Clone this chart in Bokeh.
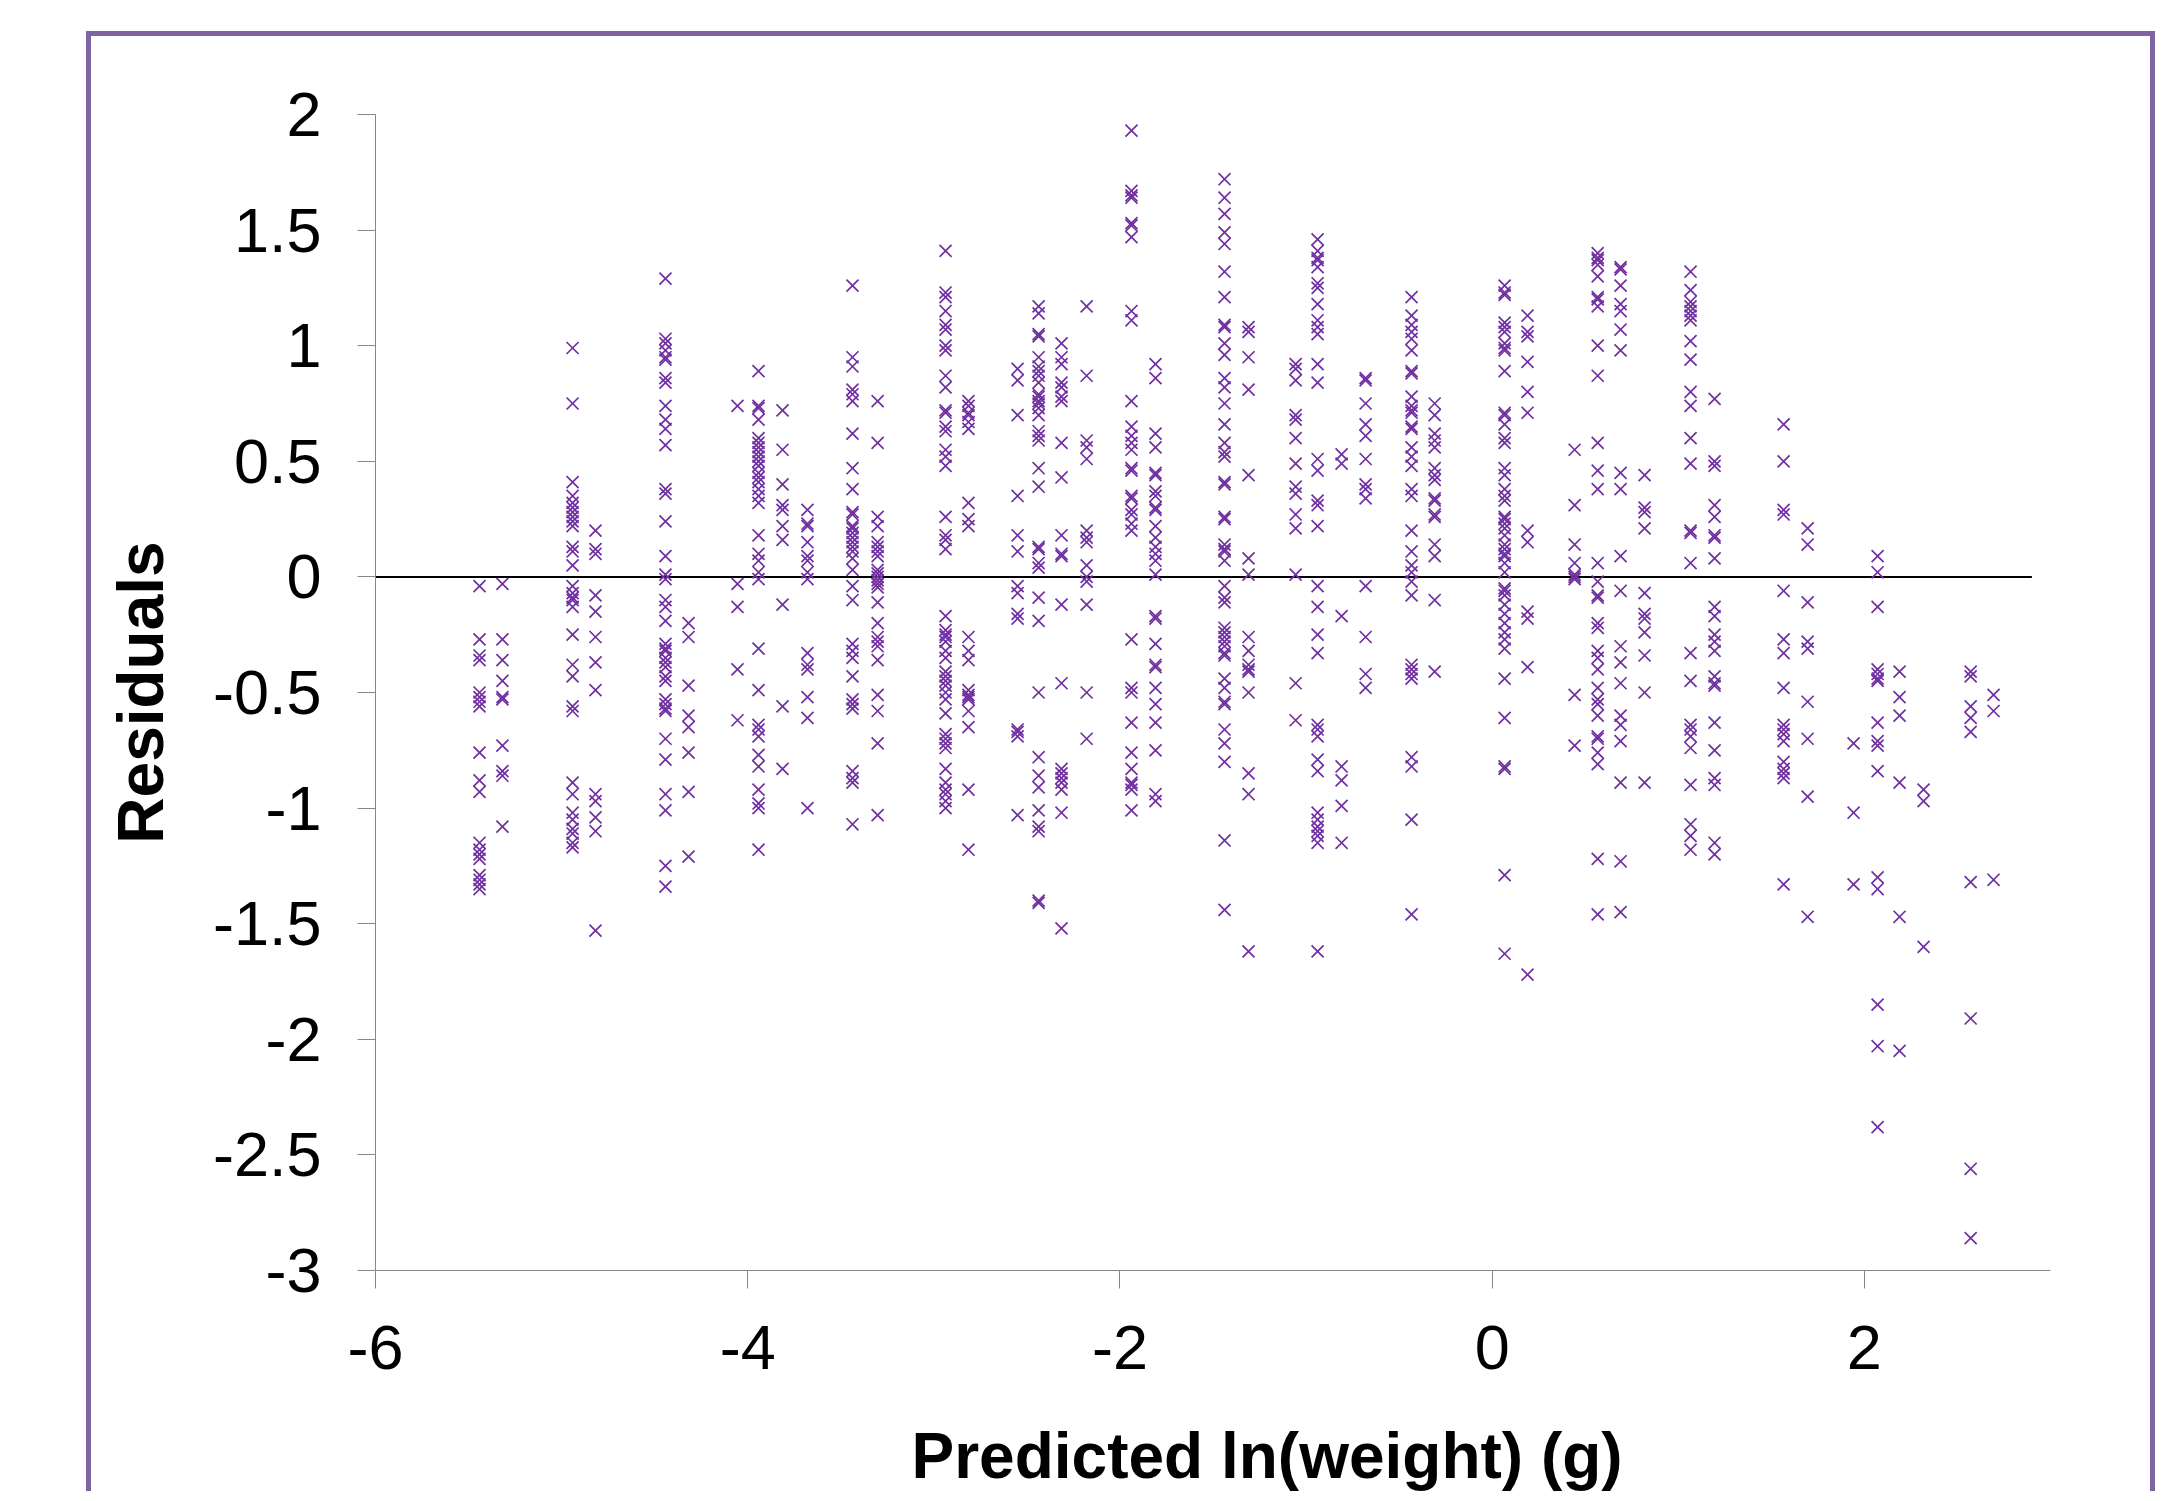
from bokeh.plotting import figure
from bokeh.models import FixedTicker, Title
from bokeh.embed import file_html
from bokeh.resources import INLINE

# Predicted ln(weight) values (x positions of the point columns)
predicted = [-5.441, -5.318, -4.941, -4.818, -4.442, -4.318, -4.055, -3.942,
             -3.813, -3.679, -3.437, -3.302, -2.937, -2.814, -2.550, -2.437,
             -2.314, -2.179, -1.938, -1.809, -1.438, -1.309, -1.056, -0.938,
             -0.809, -0.680, -0.433, -0.309, 0.067, 0.190, 0.443, 0.567,
             0.690, 0.819, 1.066, 1.195, 1.566, 1.695, 1.942, 2.071,
             2.189, 2.318, 2.571, 2.694]

# Residuals for each predicted value
res_01 = [-0.04, -0.27, -0.34, -0.36, -0.50, -0.52, -0.54, -0.56, -0.76, -0.88, -0.93, -1.15, -1.18, -1.20, -1.22, -1.29, -1.31, -1.33, -1.35]
res_02 = [-0.03, -0.27, -0.36, -0.45, -0.52, -0.53, -0.73, -0.84, -0.86, -1.08]
res_03 = [0.99, 0.75, 0.41, 0.35, 0.32, 0.30, 0.28, 0.26, 0.24, 0.22, 0.13, 0.11, 0.05, -0.04, -0.07, -0.09, -0.10, -0.13, -0.25, -0.38, -0.43, -0.56, -0.58, -0.89, -0.94, -1.02, -1.05, -1.09, -1.11, -1.15, -1.17]
res_04 = [0.20, 0.12, 0.10, -0.08, -0.15, -0.26, -0.37, -0.49, -0.94, -0.97, -1.04, -1.10, -1.53]
res_05 = [1.29, 1.03, 1.01, 0.98, 0.95, 0.94, 0.86, 0.84, 0.74, 0.68, 0.64, 0.57, 0.38, 0.36, 0.24, 0.09, 0.01, -0.01, -0.10, -0.13, -0.19, -0.29, -0.31, -0.32, -0.35, -0.37, -0.39, -0.43, -0.45, -0.53, -0.55, -0.57, -0.58, -0.70, -0.79, -0.94, -1.01, -1.25, -1.34]
res_06 = [-0.20, -0.26, -0.47, -0.60, -0.65, -0.76, -0.93, -1.21]
res_07 = [0.74, -0.03, -0.13, -0.40, -0.62]
res_08 = [0.89, 0.74, 0.73, 0.68, 0.60, 0.58, 0.56, 0.54, 0.52, 0.50, 0.48, 0.45, 0.43, 0.41, 0.38, 0.35, 0.32, 0.18, 0.10, 0.07, 0.02, -0.01, -0.31, -0.49, -0.64, -0.66, -0.69, -0.77, -0.82, -0.92, -0.98, -1.00, -1.18]
res_09 = [0.72, 0.55, 0.40, 0.31, 0.29, 0.22, 0.16, -0.12, -0.56, -0.83]
res_10 = [0.29, 0.23, 0.22, 0.15, 0.09, 0.07, 0.02, -0.01, -0.33, -0.38, -0.40, -0.52, -0.61, -1.00]
res_11 = [1.26, 0.95, 0.91, 0.81, 0.79, 0.76, 0.62, 0.47, 0.38, 0.28, 0.27, 0.22, 0.21, 0.19, 0.17, 0.15, 0.13, 0.11, 0.08, 0.03, -0.04, -0.10, -0.29, -0.32, -0.35, -0.43, -0.53, -0.55, -0.57, -0.84, -0.87, -0.89, -1.07]
res_12 = [0.76, 0.58, 0.26, 0.22, 0.15, 0.13, 0.11, 0.09, 0.03, 0.015, 0.0, -0.015, -0.03, -0.045, -0.11, -0.20, -0.26, -0.28, -0.30, -0.36, -0.51, -0.58, -0.72, -1.03]
res_13 = [1.41, 1.23, 1.21, 1.15, 1.09, 1.07, 1.00, 0.98, 0.87, 0.82, 0.72, 0.71, 0.65, 0.63, 0.55, 0.52, 0.48, 0.26, 0.18, 0.16, 0.12, -0.17, -0.23, -0.25, -0.26, -0.28, -0.32, -0.35, -0.41, -0.43, -0.45, -0.47, -0.50, -0.53, -0.59, -0.68, -0.70, -0.72, -0.74, -0.83, -0.89, -0.92, -0.94, -0.97, -1.00]
res_14 = [0.76, 0.74, 0.71, 0.70, 0.67, 0.64, 0.32, 0.25, 0.22, -0.26, -0.32, -0.36, -0.49, -0.51, -0.52, -0.53, -0.58, -0.65, -0.92, -1.18]
res_15 = [0.90, 0.85, 0.70, 0.35, 0.18, 0.11, -0.04, -0.07, -0.16, -0.18, -0.66, -0.67, -0.69, -1.03]
res_16 = [1.17, 1.14, 1.05, 1.04, 0.95, 0.91, 0.89, 0.87, 0.84, 0.79, 0.78, 0.76, 0.75, 0.73, 0.70, 0.63, 0.61, 0.59, 0.47, 0.39, 0.13, 0.12, 0.06, 0.04, -0.09, -0.19, -0.50, -0.78, -0.86, -0.91, -1.01, -1.08, -1.10, -1.40, -1.41]
res_17 = [1.01, 0.95, 0.92, 0.84, 0.82, 0.78, 0.76, 0.58, 0.43, 0.18, 0.10, 0.09, -0.12, -0.46, -0.83, -0.85, -0.87, -0.89, -0.92, -1.02, -1.52]
res_18 = [1.17, 0.87, 0.59, 0.56, 0.51, 0.20, 0.17, 0.15, 0.05, 0.0, -0.02, -0.12, -0.50, -0.70]
res_19 = [1.93, 1.67, 1.65, 1.64, 1.53, 1.52, 1.47, 1.15, 1.11, 0.76, 0.65, 0.61, 0.58, 0.55, 0.47, 0.46, 0.35, 0.34, 0.29, 0.27, 0.23, 0.20, -0.27, -0.48, -0.50, -0.63, -0.76, -0.83, -0.89, -0.90, -0.92, -1.01]
res_20 = [0.92, 0.86, 0.62, 0.56, 0.45, 0.44, 0.37, 0.35, 0.30, 0.29, 0.22, 0.17, 0.13, 0.10, 0.07, 0.01, -0.17, -0.18, -0.29, -0.38, -0.39, -0.48, -0.55, -0.63, -0.75, -0.94, -0.97]
res_21 = [1.72, 1.64, 1.57, 1.49, 1.44, 1.32, 1.21, 1.09, 1.08, 1.01, 0.96, 0.86, 0.82, 0.75, 0.66, 0.58, 0.54, 0.52, 0.41, 0.40, 0.26, 0.25, 0.14, 0.12, 0.11, 0.07, -0.04, -0.09, -0.11, -0.22, -0.24, -0.26, -0.28, -0.30, -0.33, -0.34, -0.44, -0.48, -0.54, -0.55, -0.66, -0.72, -0.80, -1.14, -1.44]
res_22 = [1.08, 1.06, 0.95, 0.81, 0.44, 0.08, 0.01, -0.26, -0.32, -0.38, -0.40, -0.41, -0.50, -0.85, -0.94, -1.62]
res_23 = [0.92, 0.90, 0.85, 0.70, 0.68, 0.60, 0.49, 0.39, 0.36, 0.27, 0.21, 0.01, -0.46, -0.62]
res_24 = [1.46, 1.41, 1.38, 1.37, 1.34, 1.27, 1.25, 1.18, 1.11, 1.08, 1.05, 0.92, 0.84, 0.51, 0.46, 0.33, 0.31, 0.22, -0.04, -0.13, -0.25, -0.33, -0.64, -0.66, -0.69, -0.79, -0.84, -1.02, -1.05, -1.08, -1.10, -1.12, -1.15, -1.62]
res_25 = [0.53, 0.49, -0.17, -0.82, -0.88, -0.99, -1.15]
res_26 = [0.86, 0.85, 0.75, 0.66, 0.61, 0.51, 0.40, 0.38, 0.34, -0.04, -0.26, -0.42, -0.48]
res_27 = [1.21, 1.13, 1.09, 1.06, 1.03, 0.98, 0.89, 0.88, 0.78, 0.74, 0.72, 0.71, 0.65, 0.64, 0.56, 0.52, 0.48, 0.38, 0.35, 0.20, 0.11, 0.05, 0.02, -0.02, -0.08, -0.38, -0.40, -0.42, -0.44, -0.78, -0.82, -1.05, -1.46]
res_28 = [0.75, 0.70, 0.62, 0.59, 0.56, 0.47, 0.44, 0.42, 0.34, 0.33, 0.27, 0.26, 0.14, 0.09, -0.10, -0.41]
res_29 = [1.26, 1.23, 1.22, 1.10, 1.08, 1.06, 1.01, 0.99, 0.98, 0.89, 0.71, 0.70, 0.66, 0.60, 0.58, 0.47, 0.44, 0.38, 0.35, 0.33, 0.26, 0.25, 0.23, 0.21, 0.18, 0.14, 0.12, 0.10, 0.09, 0.06, 0.02, -0.05, -0.06, -0.08, -0.12, -0.16, -0.20, -0.24, -0.27, -0.31, -0.44, -0.61, -0.82, -0.83, -1.29, -1.63]
res_30 = [1.13, 1.06, 1.04, 0.93, 0.80, 0.71, 0.20, 0.15, -0.15, -0.18, -0.39, -1.72]
res_31 = [0.55, 0.31, 0.14, 0.06, 0.01, 0.0, -0.01, -0.51, -0.73]
res_32 = [1.40, 1.38, 1.37, 1.35, 1.30, 1.21, 1.20, 1.17, 1.00, 0.87, 0.58, 0.46, 0.38, 0.06, -0.02, -0.08, -0.09, -0.20, -0.22, -0.32, -0.35, -0.40, -0.48, -0.53, -0.55, -0.60, -0.69, -0.70, -0.76, -0.81, -1.22, -1.46]
res_33 = [1.34, 1.33, 1.26, 1.18, 1.15, 1.07, 0.98, 0.45, 0.38, 0.09, -0.06, -0.30, -0.37, -0.46, -0.60, -0.64, -0.71, -0.89, -1.23, -1.45]
res_34 = [0.44, 0.30, 0.28, 0.21, -0.07, -0.16, -0.18, -0.24, -0.34, -0.50, -0.89]
res_35 = [1.32, 1.24, 1.19, 1.17, 1.15, 1.13, 1.11, 1.02, 0.94, 0.80, 0.74, 0.60, 0.49, 0.20, 0.19, 0.06, -0.33, -0.45, -0.64, -0.66, -0.69, -0.74, -0.90, -1.07, -1.12, -1.18]
res_36 = [0.77, 0.50, 0.48, 0.31, 0.26, 0.18, 0.17, 0.08, -0.13, -0.17, -0.25, -0.28, -0.32, -0.43, -0.46, -0.47, -0.63, -0.75, -0.87, -0.90, -1.15, -1.20]
res_37 = [0.66, 0.50, 0.29, 0.27, -0.06, -0.27, -0.33, -0.48, -0.64, -0.66, -0.68, -0.71, -0.80, -0.83, -0.85, -0.87, -1.33]
res_38 = [0.21, 0.14, -0.11, -0.28, -0.31, -0.54, -0.70, -0.95, -1.47]
res_39 = [-0.72, -1.02, -1.33]
res_40 = [0.09, 0.02, -0.13, -0.40, -0.42, -0.44, -0.45, -0.63, -0.71, -0.73, -0.84, -1.30, -1.35, -1.85, -2.03, -2.38]
res_41 = [-0.41, -0.52, -0.60, -0.89, -1.47, -2.05]
res_42 = [-0.92, -0.97, -1.60]
res_43 = [-0.41, -0.43, -0.56, -0.61, -0.67, -1.32, -1.91, -2.56, -2.86]
res_44 = [-0.51, -0.58, -1.31]

residual_groups = [res_01, res_02, res_03, res_04, res_05, res_06, res_07, res_08,
                   res_09, res_10, res_11, res_12, res_13, res_14, res_15, res_16,
                   res_17, res_18, res_19, res_20, res_21, res_22, res_23, res_24,
                   res_25, res_26, res_27, res_28, res_29, res_30, res_31, res_32,
                   res_33, res_34, res_35, res_36, res_37, res_38, res_39, res_40,
                   res_41, res_42, res_43, res_44]

# Zero reference line
zero_line_x = [-6.0, 2.9]
zero_line_y = [0.0, 0.0]

x_ticks = [-6, -4, -2, 0, 2]
y_ticks = [2, 1.5, 1, 0.5, 0, -0.5, -1, -1.5, -2, -2.5, -3]

x_title = "Predicted ln(weight) (g)"
y_title = "Residuals"

xs, ys = [], []
for xv, grp in zip(predicted, residual_groups):
    xs.extend([xv] * len(grp))
    ys.extend(grp)

W, H = 2069, 1460
p = figure(width=W, height=H, x_range=(-6, 3), y_range=(-3, 2),
           output_backend="svg", toolbar_location=None,
           min_border_left=284, min_border_right=110,
           min_border_top=78, min_border_bottom=226)
p.margin = (31, 0, 0, 86)
p.styles = {
    "border-top": "5px solid #8064A2",
    "border-left": "5px solid #8064A2",
    "border-right": "5px solid #8064A2",
    "border-bottom": "none",
}
p.xgrid.visible = False
p.ygrid.visible = False
p.outline_line_color = None
p.background_fill_color = "white"
p.border_fill_color = "white"

p.line(zero_line_x, zero_line_y, line_color="black", line_width=2)
p.scatter(xs, ys, marker="x", size=17, line_color="#7030A0", line_width=1.7)

p.xaxis.ticker = FixedTicker(ticks=x_ticks)
p.yaxis.ticker = FixedTicker(ticks=y_ticks)
p.xaxis.major_label_overrides = {t: f"{t:g}" for t in x_ticks}
p.yaxis.major_label_overrides = {t: f"{t:g}" for t in y_ticks}

for ax in (p.xaxis[0], p.yaxis[0]):
    ax.axis_line_color = "#868686"
    ax.axis_line_width = 1
    ax.major_tick_line_color = "#868686"
    ax.major_tick_in = 0
    ax.major_tick_out = 18
    ax.minor_tick_line_color = None
    ax.major_label_text_font = "Liberation Sans"
    ax.major_label_text_font_size = "63px"
    ax.major_label_text_color = "black"
    ax.axis_label_text_font = "Liberation Sans"
    ax.axis_label_text_font_style = "bold"
    ax.axis_label_text_font_size = "64px"
    ax.axis_label_text_color = "black"

p.yaxis.axis_label = y_title
p.yaxis.major_label_standoff = 36
p.xaxis.major_label_standoff = 37
p.yaxis.axis_label_standoff = 33

x_label = Title(text=x_title, align="left", offset=536, standoff=0,
                text_font="Liberation Sans", text_font_style="bold",
                text_font_size="64px", text_color="black")
try:
    x_label.padding = dict(left=0, right=0, top=46, bottom=0)
except Exception:
    x_label.padding = (0, 0, 46, 0)
p.add_layout(x_label, "below")

open("out.html", "w").write(file_html(p, INLINE))
